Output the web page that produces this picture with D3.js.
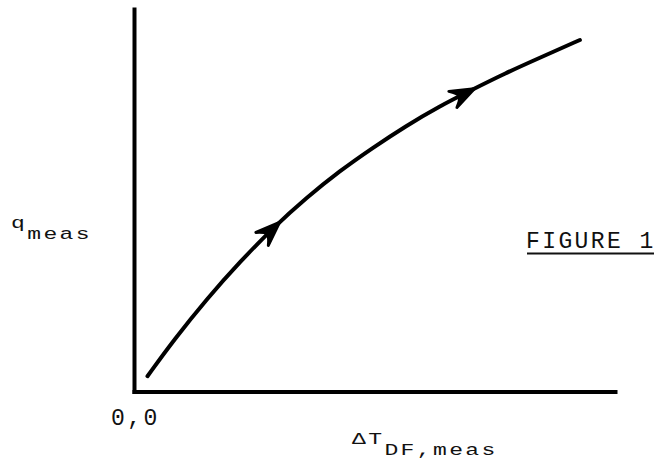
<!DOCTYPE html>
<html>
<head>
<meta charset="utf-8">
<script src="https://cdn.jsdelivr.net/npm/d3@7"></script>
<style>
  html, body { margin: 0; padding: 0; background: #fff; }
  svg { display: block; }
  text { font-family: "Liberation Mono", "Courier New", monospace; fill: #111; }
</style>
</head>
<body>
<svg id="chart" width="658" height="459"></svg>
<script>
// Measured heat flux vs. measured temperature difference (arbitrary units)
const curveX = [2.8, 8.3, 15.2, 22.1, 29.0, 35.9, 42.8, 49.6, 56.5, 63.4, 70.3, 77.2, 84.1, 92.7];
const curveQ = [4.0, 13.5, 24.3, 34.0, 42.9, 50.7, 57.7, 63.7, 69.4, 74.5, 78.9, 83.2, 87.1, 91.9];
// Positions (in x units) of the direction arrows along the curve
const arrowX = [29.8, 70.2];
const originLabel = "0,0";
const figureLabel = "FIGURE 1";

const svg = d3.select("#chart");
const x = d3.scaleLinear().domain([0, 100]).range([134, 615]);
const y = d3.scaleLinear().domain([0, 100]).range([391.5, 9]);

// Axes: plain lines, no ticks
const gx = svg.append("g")
  .attr("transform", `translate(0,${y(0)})`)
  .call(d3.axisBottom(x).tickValues([]).tickSizeOuter(0));
const gy = svg.append("g")
  .attr("transform", `translate(${x(0)},0)`)
  .call(d3.axisLeft(y).tickValues([]).tickSizeOuter(0));
[gx, gy].forEach(g => g.select(".domain")
  .attr("stroke", "#000")
  .attr("stroke-width", 4)
  .attr("stroke-linecap", "square"));

// Curve
const pts = curveX.map((d, i) => [d, curveQ[i]]);
const line = d3.line().x(d => x(d[0])).y(d => y(d[1])).curve(d3.curveBasis);
const path = svg.append("path")
  .datum(pts)
  .attr("d", line)
  .attr("fill", "none")
  .attr("stroke", "#000")
  .attr("stroke-width", 4)
  .attr("stroke-linecap", "round");

// Arrowheads placed on the curve, oriented along its tangent
const node = path.node();
const total = node.getTotalLength();
function lengthAtX(px) {
  let lo = 0, hi = total;
  for (let k = 0; k < 40; k++) {
    const mid = (lo + hi) / 2;
    if (node.getPointAtLength(mid).x < px) lo = mid; else hi = mid;
  }
  return (lo + hi) / 2;
}
arrowX.forEach(ax => {
  const L = lengthAtX(x(ax));
  const p = node.getPointAtLength(L);
  const a = node.getPointAtLength(Math.max(0, L - 6));
  const b = node.getPointAtLength(Math.min(total, L + 2));
  const ang = Math.atan2(b.y - a.y, b.x - a.x) * 180 / Math.PI;
  svg.append("path")
    .attr("d", "M3,0 L-21,-9 Q-14,-3 -14,0 Q-14,3 -21,9 Z")
    .attr("transform", `translate(${p.x},${p.y}) rotate(${ang})`)
    .attr("fill", "#000")
    .attr("stroke", "#000")
    .attr("stroke-width", 3)
    .attr("stroke-linejoin", "round");
});

// Y-axis label: q with subscript "meas"
const yl = svg.append("g").attr("transform", "translate(11,228) scale(1,0.72)");
const ylt = yl.append("text").attr("font-size", 23).attr("letter-spacing", 2.4);
ylt.append("tspan").text("q");
ylt.append("tspan").attr("dy", 15).text("meas");

// X-axis label: ΔT with subscript "DF,meas"
const xl = svg.append("g").attr("transform", "translate(352,444) scale(1,0.68)");
const xlt = xl.append("text").attr("font-size", 23).attr("letter-spacing", 2.4);
xlt.append("tspan").text("ΔT");
xlt.append("tspan").attr("dy", 16).text("DF,meas");

// Origin label
svg.append("text")
  .attr("x", x(0) - 23).attr("y", 425)
  .attr("font-size", 23).attr("letter-spacing", 2.4)
  .text(originLabel);

// Figure caption with underline
svg.append("text")
  .attr("x", 526).attr("y", 248)
  .attr("font-size", 23).attr("letter-spacing", 2.4)
  .text(figureLabel);
svg.append("line")
  .attr("x1", 527).attr("x2", 654)
  .attr("y1", 253.5).attr("y2", 253.5)
  .attr("stroke", "#111").attr("stroke-width", 1.8);
</script>
</body>
</html>
